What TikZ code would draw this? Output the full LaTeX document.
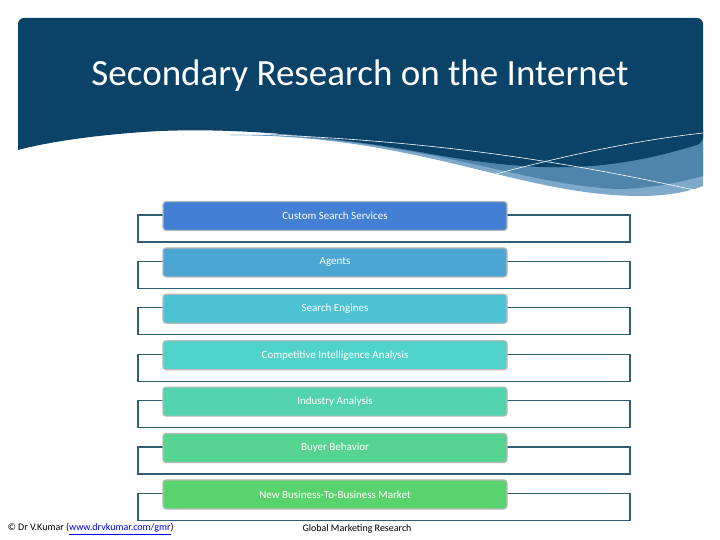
\documentclass[tikz,border=0pt]{standalone}
\usepackage{fontspec}
\setmainfont{Carlito}
\definecolor{navy}{HTML}{0A4268}
\definecolor{bandmid}{HTML}{4F84AB}
\definecolor{bandlight}{HTML}{7EA9CB}
\definecolor{frameteal}{HTML}{2F5E6E}
\definecolor{cA}{HTML}{437FD3}
\definecolor{cB}{HTML}{4BA6D4}
\definecolor{cC}{HTML}{4DC2D4}
\definecolor{cD}{HTML}{4FD3C9}
\definecolor{cE}{HTML}{52D3AE}
\definecolor{cF}{HTML}{55D38F}
\definecolor{cG}{HTML}{58D36E}
\tikzset{
  backframe/.style={draw=frameteal, line width=1.3pt, fill=white, minimum width=492pt, minimum height=27pt, inner sep=0pt},
  itembox/.style={draw=gray!55, line width=1.2pt, rounded corners=3pt, minimum width=344pt, minimum height=29pt,
    inner sep=0pt, text=white, font=\fontsize{11}{13}\selectfont},
}
\begin{document}
\begin{tikzpicture}[x=1pt,y=-1pt]
    \useasboundingbox (0,0) rectangle (720,540);

    % Header bands
    \fill[bandlight] (230,135) .. controls (420,135) and (520,196) .. (640,196) .. controls (670,196) and (690,191) .. (703,186) -- (703,130) -- cycle;
    \fill[bandmid] (230,135) .. controls (420,135) and (520,186) .. (620,189) .. controls (655,188) and (680,182) .. (703,176) -- (703,130) -- cycle;
    \fill[navy, rounded corners=6pt] (18,150) -- (18,18) -- (703,18) -- (703,143) [sharp corners] .. controls (600,175) and (530,172) .. (420,152) .. controls (330,136) and (220,125) .. (130,133) .. controls (80,137) and (40,144) .. (18,150) -- cycle;
    \draw[white, line width=0.6pt] (215,133) .. controls (420,138) and (560,160) .. (703,192);
    \draw[white, line width=0.6pt] (445,188) .. controls (560,155) and (640,140) .. (703,133);

    % Title
    \node[text=white, font=\fontsize{37}{40}\selectfont] (title) at (360,76) {Secondary Research on the Internet};

    % Items
    \foreach \i/\col/\txt in {0/cA/Custom  Search Services, 1/cB/Agents, 2/cC/Search Engines,
        3/cD/Competitive Intelligence Analysis, 4/cE/Industry Analysis, 5/cF/Buyer Behavior,
        6/cG/New Business-To-Business Market} {
      \node[backframe] (frame\i) at (384,228.5+46.4*\i) {};
      \node[itembox, fill=\col] (item\i) at (335,216+46.4*\i) {\txt};
    }

    % Footer
    \node[anchor=west, font=\fontsize{10}{12}\selectfont] (credit) at (4,529) {© Dr V.Kumar (\textcolor{blue}{\underline{www.drvkumar.com/gmr}})};
    \node[font=\fontsize{10}{12}\selectfont] (course) at (357,529) {Global Marketing Research};
\end{tikzpicture}
\end{document}
